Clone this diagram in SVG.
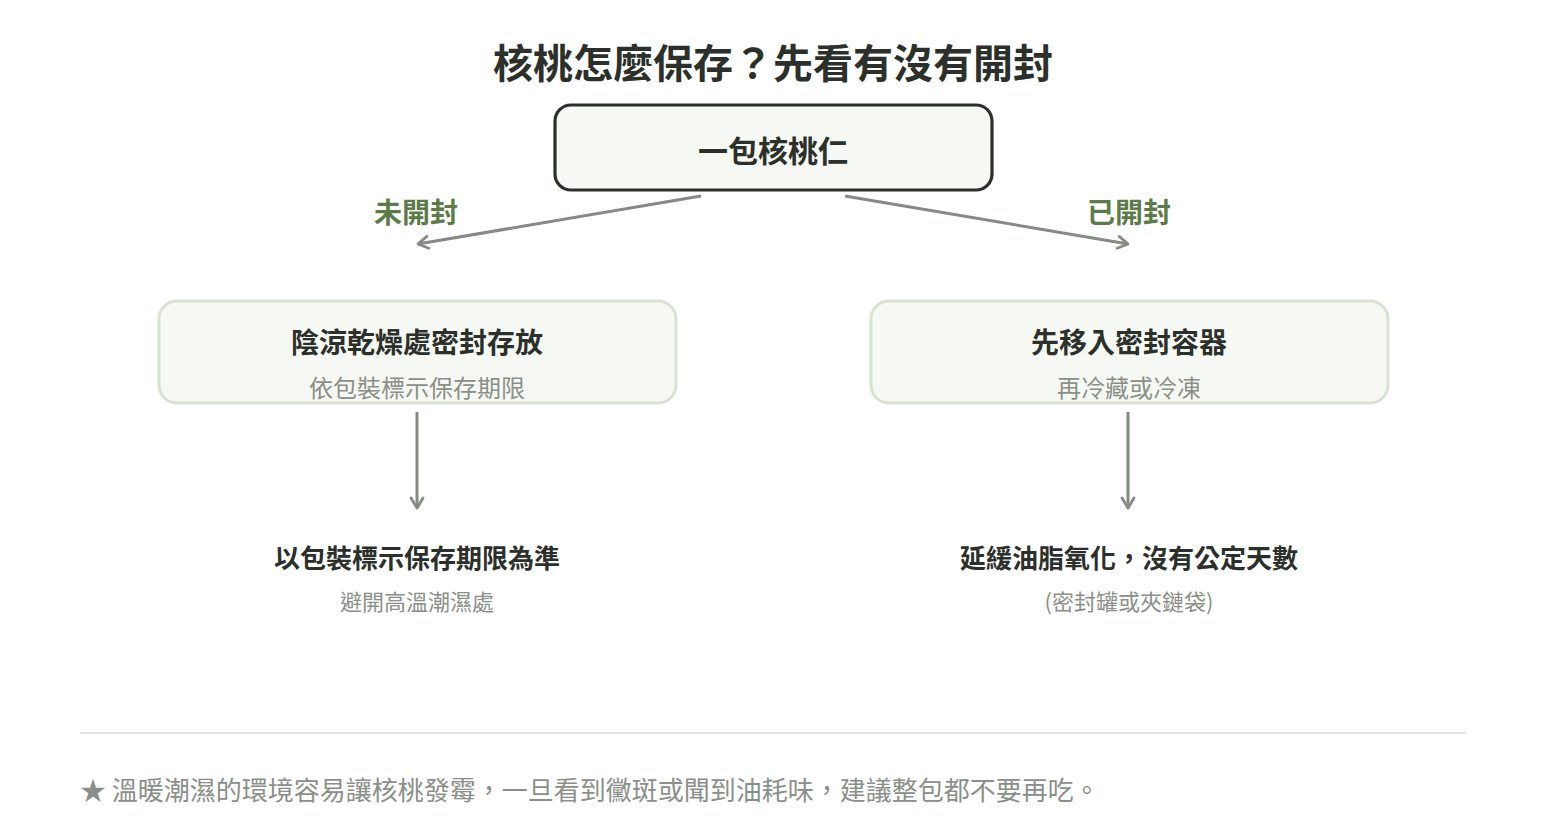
<svg xmlns="http://www.w3.org/2000/svg" width="1546" height="840" viewBox="0 0 1546 840">
<defs>
<style>
text{font-family:"Noto Sans CJK TC","Noto Sans CJK SC",sans-serif;dominant-baseline:central;text-anchor:middle}
.title{font-size:40px;font-weight:700;fill:#2b302b}
.top{font-size:30px;font-weight:700;fill:#2b302b}
.main{font-size:28px;font-weight:700;fill:#2b302b}
.sub{font-size:24px;fill:#8a8f88}
.res{font-size:26px;font-weight:700;fill:#2b302b}
.ressub{font-size:22px;fill:#8a8f88}
.lbl{font-size:28px;font-weight:700;fill:#5b7c48}
.box{fill:#f6f8f3;stroke:#d8e2d2;stroke-width:3}
.conn{stroke:#858a83;stroke-width:3;fill:none}
</style>
<marker id="arr" viewBox="0 0 16 16" refX="13" refY="8" markerWidth="16" markerHeight="16" markerUnits="userSpaceOnUse" orient="auto">
<path d="M3 2 L13 8 L3 14" fill="none" stroke="#858a83" stroke-width="2.8" stroke-linecap="round" stroke-linejoin="round"/>
</marker>
</defs>
<rect width="1546" height="840" fill="#ffffff"/>
<text class="title" x="773" y="61">核桃怎麼保存？先看有沒有開封</text>
<g id="root">
<rect x="555" y="105" width="437" height="85" rx="16" fill="#f6f8f3" stroke="#2b302b" stroke-width="3.2"/>
<text class="top" x="773" y="149">一包核桃仁</text>
</g>
<g id="connectors">
<line class="conn" x1="701" y1="196" x2="418" y2="244" marker-end="url(#arr)"/>
<line class="conn" x1="845" y1="196" x2="1128" y2="244" marker-end="url(#arr)"/>
<line class="conn" x1="417" y1="412" x2="417" y2="508" marker-end="url(#arr)"/>
<line class="conn" x1="1128" y1="412" x2="1128" y2="508" marker-end="url(#arr)"/>
<text class="lbl" x="416" y="211">未開封</text>
<text class="lbl" x="1129" y="211">已開封</text>
</g>
<g id="unopened">
<rect class="box" x="159" y="301" width="517" height="102" rx="18"/>
<text class="main" x="417" y="341">陰涼乾燥處密封存放</text>
<text class="sub" x="417" y="386">依包裝標示保存期限</text>
</g>
<g id="opened">
<rect class="box" x="871" y="301" width="517" height="102" rx="18"/>
<text class="main" x="1129" y="341">先移入密封容器</text>
<text class="sub" x="1129" y="386">再冷藏或冷凍</text>
</g>
<g id="result-unopened">
<text class="res" x="417" y="556">以包裝標示保存期限為準</text>
<text class="ressub" x="417" y="600">避開高溫潮濕處</text>
</g>
<g id="result-opened">
<text class="res" x="1129" y="556">延緩油脂氧化，沒有公定天數</text>
<text class="ressub" x="1129" y="600">(密封罐或夾鏈袋)</text>
</g>
<g id="footer">
<line x1="80" y1="733" x2="1466" y2="733" stroke="#dde3d8" stroke-width="2"/>
<text x="80" y="788" style="text-anchor:start;font-size:26px;fill:#8a8f88">★ 溫暖潮濕的環境容易讓核桃發霉，一旦看到黴斑或聞到油耗味，建議整包都不要再吃。</text>
</g>
</svg>
